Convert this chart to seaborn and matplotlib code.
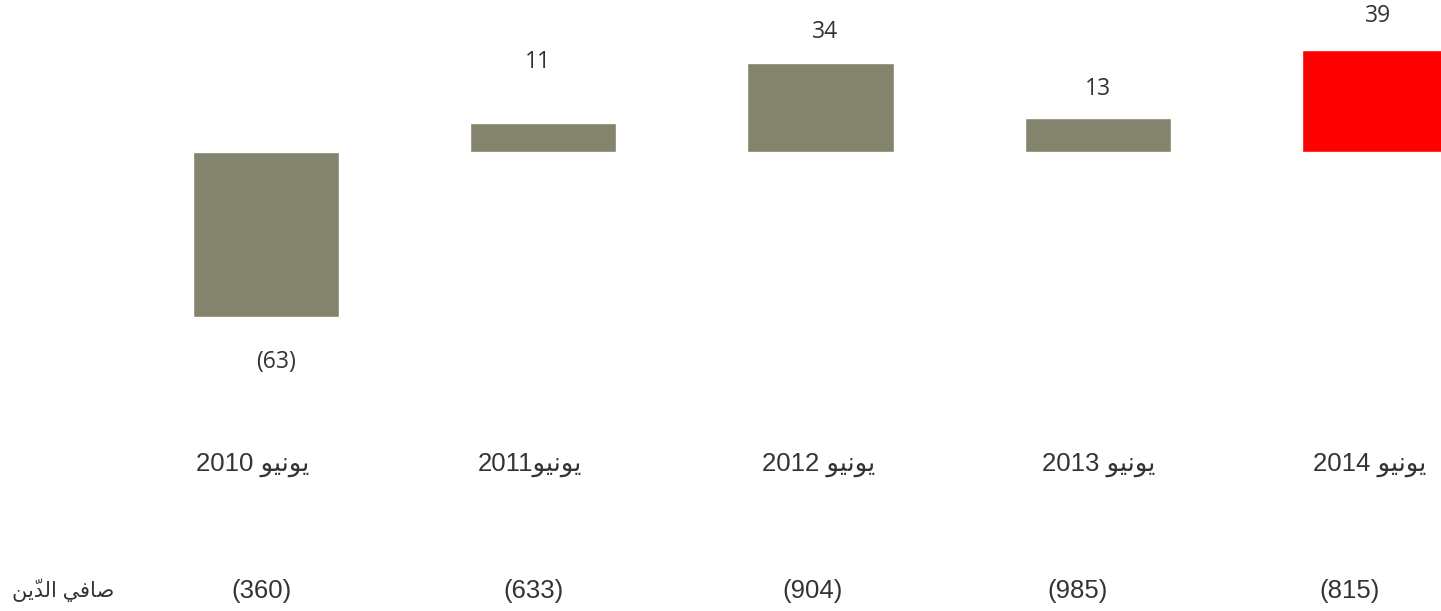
import matplotlib
matplotlib.use('Agg')
import matplotlib.pyplot as plt
import seaborn as sns
import pandas as pd

# data
periods = ['يونيو 2010', 'يونيو2011', 'يونيو 2012', 'يونيو 2013', 'يونيو 2014']
changes = [-63, 11, 34, 13, 39]
net_debt = [-360, -633, -904, -985, -815]
row_label = 'صافي الدّين'
bar_colors = ['#84836b', '#84836b', '#84836b', '#84836b', '#ff0000']

# label placement tweaks (pixels from bar end, x nudges in bar units)
label_offsets = [45, 61, 31, 29, 34]
value_nudge = [0.036, -0.018, 0.018, 0.0, 0.01]
period_nudge = [-0.05, -0.05, -0.007, 0.004, -0.02]
debt_nudge = [-0.018, -0.036, -0.029, -0.072, -0.09]

# minimal arabic shaping: (isolated, final, initial, medial); None = right-joining only
FORMS = {
    'ي': ('\uFEF1', '\uFEF2', '\uFEF3', '\uFEF4'),
    'و': ('\uFEED', '\uFEEE', None, None),
    'ن': ('\uFEE5', '\uFEE6', '\uFEE7', '\uFEE8'),
    'ص': ('\uFEB9', '\uFEBA', '\uFEBB', '\uFEBC'),
    'ا': ('\uFE8D', '\uFE8E', None, None),
    'ف': ('\uFED1', '\uFED2', '\uFED3', '\uFED4'),
    'ل': ('\uFEDD', '\uFEDE', '\uFEDF', '\uFEE0'),
    'د': ('\uFEA9', '\uFEAA', None, None),
}
MARKS = {'\u0651'}


def shape_word(word):
    letters = [i for i, c in enumerate(word) if c not in MARKS]
    out = list(word)
    for k, i in enumerate(letters):
        c = word[i]
        if c not in FORMS:
            continue
        prev = word[letters[k - 1]] if k > 0 else None
        nxt = word[letters[k + 1]] if k + 1 < len(letters) else None
        join_prev = prev in FORMS and FORMS[prev][2] is not None
        join_next = nxt in FORMS and FORMS[c][2] is not None
        iso, fin, ini, med = FORMS[c]
        if join_prev and join_next:
            out[i] = med
        elif join_prev:
            out[i] = fin
        elif join_next:
            out[i] = ini
        else:
            out[i] = iso
    # plain reversal: the mark ends up just before its letter, which is
    # where the font draws it from
    return ''.join(reversed(out))


def visual(text):
    runs = []
    for ch in text:
        kind = 'ar' if ('\u0600' <= ch <= '\u06ff') else ('sp' if ch == ' ' else 'lt')
        if runs and runs[-1][0] == kind:
            runs[-1][1] += ch
        else:
            runs.append([kind, ch])
    parts = [shape_word(s) if k == 'ar' else s for k, s in runs]
    return ''.join(reversed(parts))


def paren(v):
    return f'({abs(v)})' if v < 0 else str(v)


sns.set_theme(style='white')
plt.rcParams['font.family'] = ['Liberation Sans', 'DejaVu Sans']

fig = plt.figure(figsize=(14.41, 6.11), dpi=100)
ax = fig.add_axes([0, 0, 1, 1])

df = pd.DataFrame({'period': periods, 'change': changes})
sns.barplot(data=df, x='period', y='change', hue='period', palette=bar_colors,
            width=0.527, saturation=1, legend=False, ax=ax)

ax.set_xlim(-0.9594, 4.238)
ax.set_ylim(-175.2, 58.0)
ax.axis('off')

txt_color = '#333333'
for i, (v, off) in enumerate(zip(changes, label_offsets)):
    dy = off * 0.72 if v > 0 else -off * 0.72
    ax.annotate(paren(v), (i + value_nudge[i], v), xytext=(0, dy),
                textcoords='offset points', ha='center', va='center',
                fontsize=16.5, color=txt_color, family=['Open Sans', 'DejaVu Sans'])

trans = ax.get_xaxis_transform()
for i, p in enumerate(periods):
    ax.text(i + period_nudge[i], 0.239, visual(p), transform=trans, ha='center',
            va='center', fontsize=18.5, color=txt_color)

for i, d in enumerate(net_debt):
    ax.text(i + debt_nudge[i], 0.032, paren(d), transform=trans, ha='center',
            va='center', fontsize=18.5, color=txt_color)

ax.text(0.0437, 0.034, visual(row_label), transform=ax.transAxes, ha='center',
        va='center', fontsize=15, color=txt_color)

fig.savefig('out.png', dpi=100)
